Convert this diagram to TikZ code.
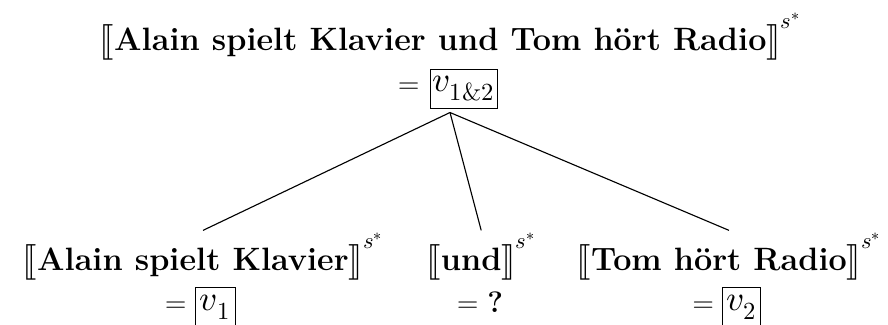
\documentclass[tikz,border=0pt]{standalone}
\usepackage{amsmath}
\usepackage{unicode-math}
\setmathfont{Latin Modern Math}
\usetikzlibrary{positioning,calc}

\newcommand{\denot}[1]{$\bigl\lBrack\text{\bfseries #1}\bigr\rBrack^{s^*}$}

\begin{document}
\begin{tikzpicture}[
  term/.style={inner sep=0pt, font=\fontsize{23}{27}\selectfont},
  val/.style={draw, line width=0.6pt, inner sep=2pt, minimum height=0.975cm, font=\fontsize{25}{29}\selectfont},
  eq/.style={inner sep=0pt, font=\fontsize{21}{25}\selectfont},
  edge/.style={line width=0.8pt}
]
\useasboundingbox (0,0) rectangle (22.2,8.125);
\clip (0,0) rectangle (22.2,8.125);

% whole sentence
\node[term] (whole) at (11.26,7.2) {\denot{Alain spielt Klavier und Tom hört Radio}};
\node[val, minimum width=1.575cm] (vall) at (11.59,5.91) {$v_{1\&2}$};
\node[eq, left=0.25cm of vall] (eqall) {=};
\coordinate (root) at ([xshift=-0.34cm,yshift=-0.1cm]vall.south);

% parts
\node[term] (left) at (5.075,1.7) {\denot{Alain spielt Klavier}};
\node[term] (mid) at (12.03,1.7) {\denot{und}};
\node[term] (right) at (18.225,1.7) {\denot{Tom hört Radio}};

\node[val, minimum width=1cm] (vleft) at (5.375,0.44) {$v_1$};
\node[eq, left=0.2cm of vleft] (eqleft) {=};
\node[eq] (vmid) at (12.0,0.575) {= \textbf{?}};
\node[val, minimum width=0.95cm] (vright) at (18.54,0.44) {$v_2$};
\node[eq, left=0.2cm of vright] (eqright) {=};

\draw[edge] (root) -- ([yshift=0.05cm]left.north);
\draw[edge] (root) -- ([yshift=0.05cm]mid.north);
\draw[edge] (root) -- ([yshift=0.05cm]right.north);

\end{tikzpicture}
\end{document}
